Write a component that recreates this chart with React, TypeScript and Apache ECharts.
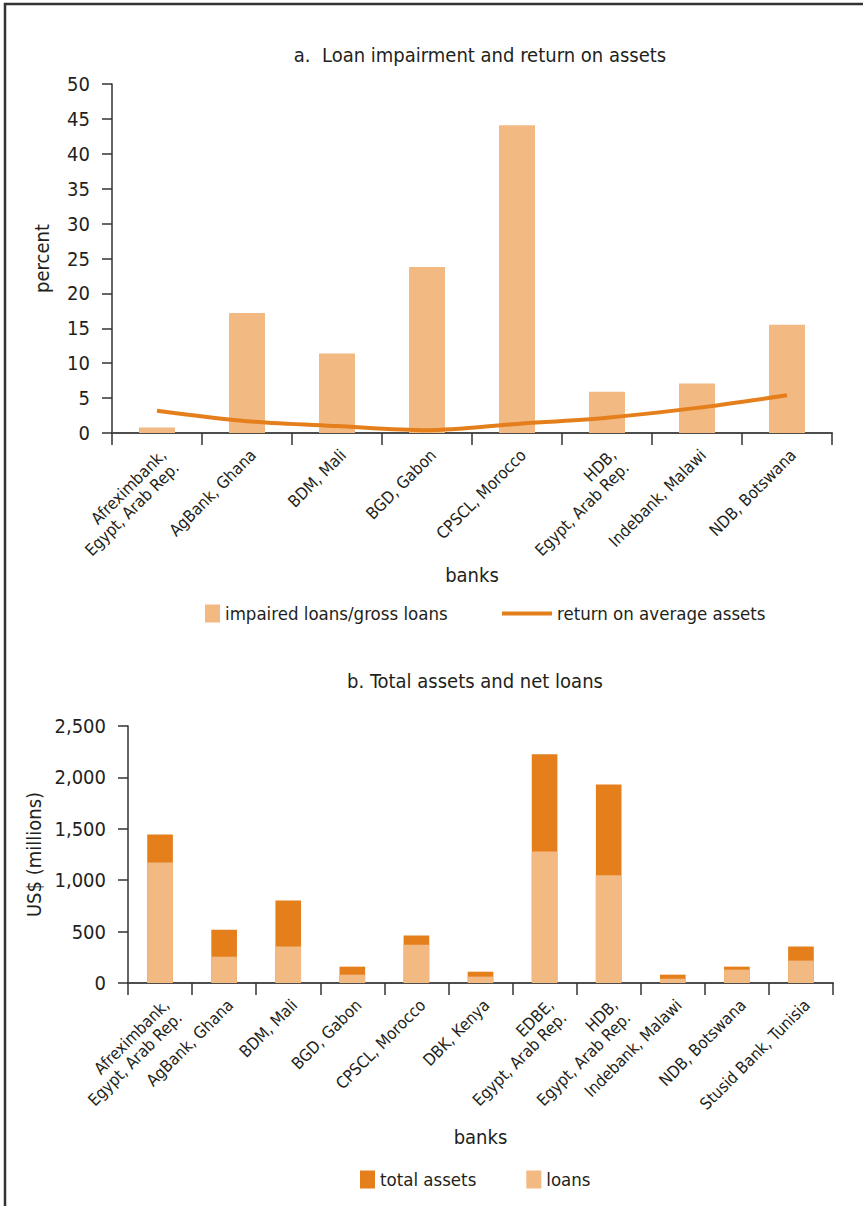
import React, { useEffect, useRef } from "react";
import * as echarts from "echarts";

const banksA = [
  "Afreximbank,\nEgypt, Arab Rep.",
  "AgBank, Ghana",
  "BDM, Mali",
  "BGD, Gabon",
  "CPSCL, Morocco",
  "HDB,\nEgypt, Arab Rep.",
  "Indebank, Malawi",
  "NDB, Botswana",
];
const impairedLoans = [0.8, 17.2, 11.4, 23.8, 44.1, 5.9, 7.1, 15.5];
const returnOnAssets = [3.2, 1.7, 1.0, 0.4, 1.3, 2.2, 3.6, 5.4];

const banksB = [
  "Afreximbank,\nEgypt, Arab Rep.",
  "AgBank, Ghana",
  "BDM, Mali",
  "BGD, Gabon",
  "CPSCL, Morocco",
  "DBK, Kenya",
  "EDBE,\nEgypt, Arab Rep.",
  "HDB,\nEgypt, Arab Rep.",
  "Indebank, Malawi",
  "NDB, Botswana",
  "Stusid Bank, Tunisia",
];
const totalAssets = [1445, 519, 802, 159, 461, 110, 2224, 1932, 81, 159, 354];
const loans = [1172, 256, 354, 81, 373, 62, 1279, 1049, 42, 130, 218];

const FONT = "'Liberation Sans Narrow', 'Arial Narrow', 'DejaVu Sans Condensed', sans-serif";
const LIGHT = "#F2B983";
const DARK = "#E47F1C";
const TEXT = "#231F20";
const AXIS = "#4D4D4D";

export default function App() {
  const ref = useRef<HTMLDivElement>(null);

  useEffect(() => {
    if (!ref.current) return;
    const chart = echarts.init(ref.current, undefined, { renderer: "svg" });

    const catAxis = (data: string[], gridIndex: number, nameGap: number) => ({
      type: "category",
      gridIndex,
      data,
      name: "banks",
      nameLocation: "middle",
      nameGap,
      nameTextStyle: { fontFamily: FONT, fontSize: 20, color: TEXT },
      axisLine: { show: true, lineStyle: { color: AXIS, width: 2 } },
      axisTick: { show: true, length: 12, lineStyle: { color: "#333", width: 1.5 } },
      axisLabel: {
        rotate: 45,
        interval: 0,
        margin: 13,
        verticalAlign: "top",
        fontFamily: FONT,
        fontSize: 16.5,
        lineHeight: 18,
        color: TEXT,
      },
      splitLine: { show: false },
    });

    const valAxis = (
      gridIndex: number,
      max: number,
      interval: number,
      name: string,
      nameGap: number,
      fmt?: (v: number) => string
    ) => ({
      type: "value",
      gridIndex,
      min: 0,
      max,
      interval,
      name,
      nameLocation: "middle",
      nameRotate: 90,
      nameGap,
      nameTextStyle: { fontFamily: FONT, fontSize: 20, color: TEXT },
      axisLine: { show: true, lineStyle: { color: "#333", width: 1.5 } },
      axisTick: { show: true, length: 10, lineStyle: { color: "#333", width: 1.5 } },
      axisLabel: {
        margin: 22,
        fontFamily: FONT,
        fontSize: 20,
        color: TEXT,
        formatter: fmt,
      },
      splitLine: { show: false },
    });

    const legendText = { fontFamily: FONT, fontSize: 18.5, color: TEXT };

    chart.setOption({
      animation: false,
      backgroundColor: "#ffffff",
      textStyle: { fontFamily: FONT },
      title: [
        {
          text: "a.  Loan impairment and return on assets",
          left: 475,
          top: 40,
          textAlign: "center",
          textStyle: { fontFamily: FONT, fontSize: 20, fontWeight: "normal", color: TEXT },
        },
        {
          text: "b. Total assets and net loans",
          left: 470,
          top: 666,
          textAlign: "center",
          textStyle: { fontFamily: FONT, fontSize: 20, fontWeight: "normal", color: TEXT },
        },
      ],
      legend: [
        {
          data: ["impaired loans/gross loans"],
          left: 200,
          top: 599,
          icon: "rect",
          itemWidth: 15,
          itemHeight: 18,
          textStyle: legendText,
        },
        {
          data: ["return on average assets"],
          left: 497,
          top: 599,
          icon: "rect",
          itemWidth: 50,
          itemHeight: 4,
          itemStyle: { color: DARK },
          textStyle: legendText,
        },
        {
          data: ["total assets", "loans"],
          left: 355,
          top: 1165,
          icon: "rect",
          itemWidth: 15,
          itemHeight: 18,
          itemGap: 50,
          textStyle: legendText,
        },
      ],
      grid: [
        { left: 112, right: 31, top: 84, height: 349, containLabel: false },
        { left: 128, right: 30, top: 726, height: 257, containLabel: false },
      ],
      xAxis: [catAxis(banksA, 0, 132), catAxis(banksB, 1, 144)],
      yAxis: [
        valAxis(0, 50, 5, "percent", 60),
        valAxis(1, 2500, 500, "US$ (millions)", 71, (v: number) => v.toLocaleString("en-US")),
      ],
      series: [
        {
          name: "impaired loans/gross loans",
          type: "bar",
          xAxisIndex: 0,
          yAxisIndex: 0,
          barWidth: "40%",
          itemStyle: { color: LIGHT },
          data: impairedLoans,
        },
        {
          name: "return on average assets",
          type: "line",
          xAxisIndex: 0,
          yAxisIndex: 0,
          smooth: 0.3,
          symbol: "none",
          showSymbol: false,
          lineStyle: { color: DARK, width: 4 },
          itemStyle: { color: DARK },
          data: returnOnAssets,
          z: 3,
        },
        {
          name: "total assets",
          type: "bar",
          xAxisIndex: 1,
          yAxisIndex: 1,
          barWidth: "40%",
          barGap: "-100%",
          itemStyle: { color: DARK },
          data: totalAssets,
        },
        {
          name: "loans",
          type: "bar",
          xAxisIndex: 1,
          yAxisIndex: 1,
          barWidth: "40%",
          barGap: "-100%",
          itemStyle: { color: LIGHT },
          data: loans,
        },
      ],
      graphic: [
        {
          type: "rect",
          shape: { x: 5, y: 4, width: 900, height: 1300 },
          style: { fill: "none", stroke: "#333", lineWidth: 2.5 },
          silent: true,
        },
      ],
    });

    return () => chart.dispose();
  }, []);

  return (
    <div
      ref={ref}
      style={{ position: "absolute", left: 0, top: 0, width: 863, height: 1206 }}
    />
  );
}
